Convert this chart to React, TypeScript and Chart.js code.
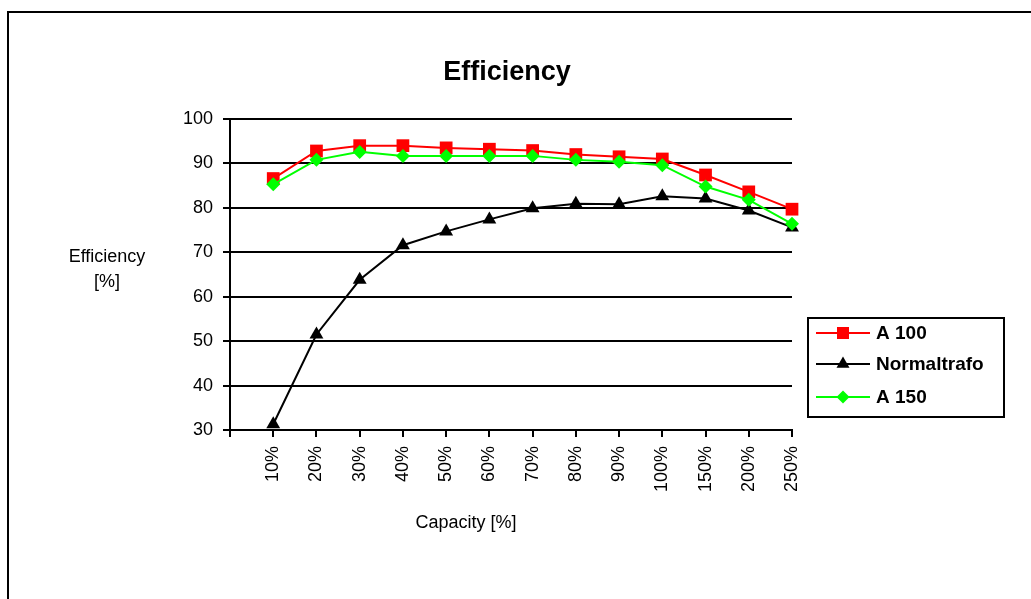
import React, { useEffect, useRef } from "react";
import { Chart, registerables } from "chart.js";

Chart.register(...registerables);

const categories = ["10%", "20%", "30%", "40%", "50%", "60%", "70%", "80%", "90%", "100%", "150%", "200%", "250%"];
const a100 = [86.6, 92.8, 94.0, 94.0, 93.5, 93.2, 92.9, 92.0, 91.5, 91.0, 87.4, 83.6, 79.7];
const normaltrafo = [31.3, 51.5, 63.8, 71.6, 74.7, 77.4, 79.9, 80.9, 80.8, 82.6, 82.1, 79.4, 75.6];
const a150 = [85.3, 90.8, 92.6, 91.7, 91.7, 91.7, 91.7, 90.8, 90.4, 89.6, 84.8, 81.8, 76.4];
const yTicks = [30, 40, 50, 60, 70, 80, 90, 100];

const FONT = "'Liberation Sans', Arial, sans-serif";

const framePlugin = {
  id: "frame",
  beforeDraw(chart: any) {
    const ctx = chart.ctx;
    ctx.save();
    ctx.fillStyle = "#ffffff";
    ctx.fillRect(0, 0, chart.width, chart.height);
    ctx.fillStyle = "#000000";
    ctx.fillRect(7, 11, 2, chart.height);
    ctx.fillRect(7, 11, chart.width, 2);
    ctx.restore();
  },
  afterDraw(chart: any) {
    const ctx = chart.ctx;
    ctx.save();
    ctx.fillStyle = "#000";
    ctx.textAlign = "center";
    ctx.textBaseline = "middle";
    ctx.font = `bold 27px ${FONT}`;
    ctx.fillText("Efficiency", 507, 73);
    ctx.font = `18px ${FONT}`;
    ctx.fillText("Efficiency", 107, 257);
    ctx.fillText("[%]", 107, 282);
    ctx.fillText("Capacity [%]", 466, 523);

    // legend
    ctx.strokeStyle = "#000";
    ctx.lineWidth = 2;
    ctx.strokeRect(808, 318, 196, 99);
    const rows = [333, 364, 397];
    chart.data.datasets.forEach((ds: any, i: number) => {
      const y = rows[i];
      ctx.strokeStyle = ds.borderColor;
      ctx.lineWidth = 2;
      ctx.beginPath();
      ctx.moveTo(816, y);
      ctx.lineTo(870, y);
      ctx.stroke();
      ctx.fillStyle = ds.backgroundColor;
      const cx = 843;
      ctx.beginPath();
      if (ds.pointStyle === "rect") {
        ctx.rect(cx - 6, y - 6, 12, 12);
      } else if (ds.pointStyle === "triangle") {
        const r = 7.5;
        ctx.moveTo(cx, y - r);
        ctx.lineTo(cx + r * Math.sin((2 * Math.PI) / 3), y + r / 2);
        ctx.lineTo(cx - r * Math.sin((2 * Math.PI) / 3), y + r / 2);
        ctx.closePath();
      } else {
        const r = 6.5;
        ctx.moveTo(cx - r, y);
        ctx.lineTo(cx, y - r);
        ctx.lineTo(cx + r, y);
        ctx.lineTo(cx, y + r);
        ctx.closePath();
      }
      ctx.fill();
      ctx.fillStyle = "#000";
      ctx.textAlign = "left";
      ctx.font = `bold 19px ${FONT}`;
      ctx.fillText(ds.label, 876, y + 1);
    });
    ctx.restore();
  },
};

export default function App() {
  const ref = useRef<HTMLCanvasElement>(null);
  useEffect(() => {
    if (!ref.current) return;
    const labels = ["", ...categories];
    const chart = new Chart(ref.current, {
      type: "line",
      data: {
        labels,
        datasets: [
          {
            label: "A 100",
            data: [null, ...a100],
            borderColor: "#ff0000",
            backgroundColor: "#ff0000",
            borderWidth: 2,
            pointStyle: "rect",
            pointRadius: 9,
            pointBorderWidth: 0,
            order: 3,
            clip: false,
          },
          {
            label: "Normaltrafo",
            data: [null, ...normaltrafo],
            borderColor: "#000000",
            backgroundColor: "#000000",
            borderWidth: 2,
            pointStyle: "triangle",
            pointRadius: 8,
            pointBorderWidth: 0,
            order: 2,
            clip: false,
          },
          {
            label: "A 150",
            data: [null, ...a150],
            borderColor: "#00ff00",
            backgroundColor: "#00ff00",
            borderWidth: 2,
            pointStyle: "rectRot",
            pointRadius: 7,
            pointBorderWidth: 0,
            order: 1,
            clip: false,
          },
        ] as any,
      },
      options: {
        responsive: false,
        animation: false,
        layout: { padding: { left: 0, top: 119, right: 239, bottom: 0 } },
        plugins: {
          legend: { display: false },
          title: { display: false },
          tooltip: { enabled: false },
        },
        scales: {
          x: {
            type: "category",
            offset: false,
            afterFit: (s: any) => {
              s.height = 169;
            },
            grid: {
              display: true,
              drawOnChartArea: false,
              drawTicks: true,
              tickLength: 7,
              color: "#000",
              lineWidth: 2,
            },
            border: { color: "#000", width: 2 },
            ticks: {
              autoSkip: false,
              maxRotation: 90,
              minRotation: 90,
              padding: 9,
              color: "#000",
              font: { family: FONT, size: 18 },
            },
          },
          y: {
            min: 30,
            max: 100,
            afterFit: (s: any) => {
              s.width = 230;
            },
            afterBuildTicks: (s: any) => {
              s.ticks = yTicks.map((v) => ({ value: v }));
            },
            grid: {
              color: "#000",
              lineWidth: 2,
              drawTicks: true,
              tickLength: 7,
            },
            border: { color: "#000", width: 2 },
            ticks: {
              padding: 10,
              color: "#000",
              font: { family: FONT, size: 18 },
            },
          },
        },
      },
      plugins: [framePlugin],
    });
    return () => chart.destroy();
  }, []);
  return (
    <div style={{ position: "absolute", left: 0, top: 0, width: 1031, height: 599 }}>
      <canvas ref={ref} width={1031} height={599} style={{ display: "block" }} />
    </div>
  );
}
